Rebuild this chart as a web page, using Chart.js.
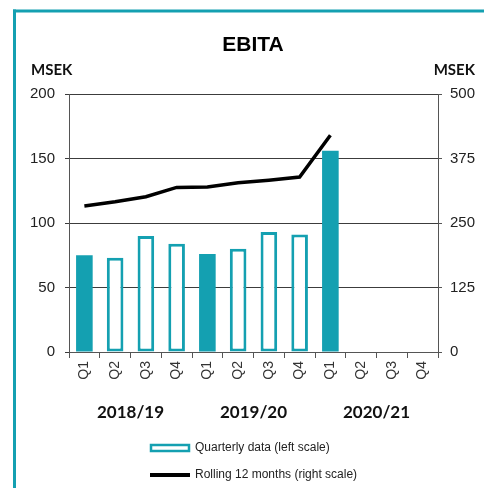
<!DOCTYPE html>
<html lang="en">
<head>
  <meta charset="UTF-8">
  <title>EBITA</title>
  <script src="https://cdn.jsdelivr.net/npm/chart.js"></script>
  <style>
    body {
      margin: 0;
      background: #fff;
    }
    #wrap {
      width: 484px;
      height: 488px;
    }
  </style>
</head>
<body>
  <div id="wrap">
    <canvas id="ebitaChart" width="484" height="488"></canvas>
  </div>

  <script>
    // data
    const quarters = ["Q1", "Q2", "Q3", "Q4", "Q1", "Q2", "Q3", "Q4", "Q1", "Q2", "Q3", "Q4"];
    const fiscalYears = ["2018/19", "2019/20", "2020/21"];
    const quarterly = [75, 73, 90, 84, 76, 80, 93, 91, 156, null, null, null];   // MSEK, left scale
    const rolling12 = [283, 291, 301, 319, 320, 328, 333, 339, 420, null, null, null]; // MSEK, right scale
    const leftTicks = [0, 50, 100, 150, 200];
    const rightTicks = [0, 125, 250, 375, 500];

    const TEAL = "#14a0b1";
    const AXIS = "#555";
    const GRID = "#3c3c3c";

    const decor = {
      id: "decor",
      beforeDraw(chart) {
        const ctx = chart.ctx;
        ctx.save();
        ctx.fillStyle = TEAL;
        ctx.fillRect(13, 9.5, 471, 3);
        ctx.fillRect(13, 9.5, 3, 479);
        ctx.restore();
      },
      afterDraw(chart) {
        const ctx = chart.ctx;
        const x = chart.scales.x;
        ctx.save();
        ctx.fillStyle = "#000";
        ctx.textBaseline = "middle";

        // title
        ctx.textAlign = "center";
        ctx.font = "bold 21px 'Liberation Sans', Arial, sans-serif";
        ctx.fillText("EBITA", 253, 45);

        // unit labels
        ctx.font = "bold 15px Lato, 'Open Sans', sans-serif";
        ctx.fillStyle = "#111";
        ctx.textAlign = "left";
        ctx.fillText("MSEK", 31, 70);
        ctx.textAlign = "right";
        ctx.fillText("MSEK", 475, 70);

        // fiscal year group labels
        ctx.textAlign = "center";
        ctx.font = "bold 17px Lato, 'Open Sans', sans-serif";
        fiscalYears.forEach((fy, i) => {
          const a = x.getPixelForValue(i * 4);
          const b = x.getPixelForValue(i * 4 + 3);
          ctx.fillText(fy, (a + b) / 2, 413);
        });

        // legend
        ctx.strokeStyle = TEAL;
        ctx.lineWidth = 2.5;
        ctx.fillStyle = "#fff";
        ctx.fillRect(151, 445, 38, 6);
        ctx.strokeRect(151, 445, 38, 6);
        ctx.strokeStyle = "#000";
        ctx.lineWidth = 4;
        ctx.beginPath();
        ctx.moveTo(150, 475);
        ctx.lineTo(190, 475);
        ctx.stroke();

        ctx.fillStyle = "#222";
        ctx.textAlign = "left";
        ctx.font = "12px 'Liberation Sans', Arial, sans-serif";
        ctx.fillText("Quarterly data (left scale)", 195, 448);
        ctx.fillText("Rolling 12 months (right scale)", 195, 475);
        ctx.restore();
      }
    };

    new Chart(document.getElementById("ebitaChart").getContext("2d"), {
      type: "bar",
      data: {
        labels: quarters,
        datasets: [
          {
            type: "line",
            label: "Rolling 12 months (right scale)",
            data: rolling12,
            yAxisID: "y2",
            borderColor: "#000",
            borderWidth: 3.5,
            pointRadius: 0,
            tension: 0,
            order: 0
          },
          {
            label: "Quarterly data (left scale)",
            data: quarterly,
            yAxisID: "y",
            backgroundColor: quarters.map(q => q === "Q1" ? TEAL : "#fff"),
            borderColor: TEAL,
            borderWidth: quarters.map(q => q === "Q1" ? 0 : 3),
            borderSkipped: false,
            barPercentage: 0.54,
            categoryPercentage: 1,
            order: 1
          }
        ]
      },
      options: {
        responsive: false,
        animation: false,
        layout: {
          padding: { top: 94, left: 0, right: 0, bottom: 0 }
        },
        scales: {
          x: {
            offset: true,
            grid: {
              offset: true,
              drawOnChartArea: false,
              drawTicks: true,
              tickLength: 6,
              color: AXIS
            },
            border: { color: AXIS },
            ticks: {
              autoSkip: false,
              minRotation: 90,
              maxRotation: 90,
              padding: 3,
              color: "#333",
              font: { family: "'Liberation Sans', Arial, sans-serif", size: 14 }
            },
            afterFit(scale) { scale.height = 136; }
          },
          y: {
            position: "left",
            min: 0,
            max: 200,
            afterBuildTicks(scale) { scale.ticks = leftTicks.map(v => ({ value: v })); },
            grid: { color: GRID, tickLength: 4 },
            border: { color: AXIS },
            ticks: {
              padding: 10,
              color: "#222",
              font: { family: "'Liberation Sans', Arial, sans-serif", size: 15 }
            },
            afterFit(scale) { scale.width = 69; }
          },
          y2: {
            position: "right",
            min: 0,
            max: 500,
            afterBuildTicks(scale) { scale.ticks = rightTicks.map(v => ({ value: v })); },
            grid: { drawOnChartArea: false, color: AXIS, tickLength: 4 },
            border: { color: AXIS },
            ticks: {
              padding: 8,
              color: "#222",
              font: { family: "'Liberation Sans', Arial, sans-serif", size: 15 }
            },
            afterFit(scale) { scale.width = 46; }
          }
        },
        plugins: {
          legend: { display: false },
          tooltip: { enabled: false }
        }
      },
      plugins: [decor]
    });
  </script>
</body>
</html>
